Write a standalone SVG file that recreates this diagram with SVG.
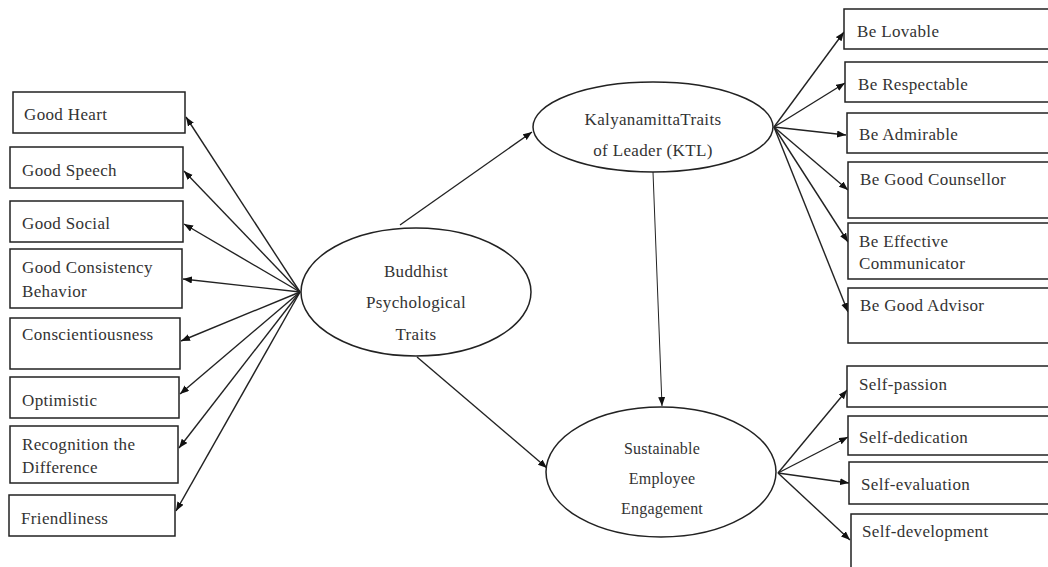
<svg xmlns="http://www.w3.org/2000/svg" width="1048" height="567" viewBox="0 0 1048 567">
<defs>
<style>
.box{fill:#fff;stroke:#222;stroke-width:1.5}
.ell{fill:#fff;stroke:#222;stroke-width:1.5}
.t{font-family:"Liberation Serif","Times New Roman",serif;font-size:17px;fill:#333;letter-spacing:0.35px}
.ts{font-family:"Liberation Serif","Times New Roman",serif;font-size:16px;fill:#333;letter-spacing:0.2px}
.m{text-anchor:middle}
.c line{stroke:#222;stroke-width:1.4;marker-end:url(#ah)}
</style>
<marker id="ah" markerUnits="userSpaceOnUse" markerWidth="10" markerHeight="8" refX="9" refY="3.5" orient="auto">
<path d="M0,0 L9,3.5 L0,7 Z" fill="#111"/>
</marker>
</defs>
<rect width="1048" height="567" fill="#fff"/>

<g class="c" id="connectors">
<line x1="300" y1="292" x2="186" y2="117"/>
<line x1="300" y1="292" x2="184" y2="171"/>
<line x1="300" y1="292" x2="184" y2="224"/>
<line x1="300" y1="292" x2="183" y2="279"/>
<line x1="300" y1="292" x2="181" y2="341"/>
<line x1="300" y1="292" x2="180" y2="394"/>
<line x1="300" y1="292" x2="179" y2="448"/>
<line x1="300" y1="292" x2="176" y2="511"/>
<line x1="400" y1="225" x2="532" y2="132"/>
<line x1="417" y1="357" x2="547" y2="468"/>
<line x1="653" y1="172" x2="662" y2="406" style="stroke-width:1"/>
<line x1="774" y1="127" x2="844" y2="32"/>
<line x1="774" y1="127" x2="845" y2="83"/>
<line x1="774" y1="127" x2="846" y2="135"/>
<line x1="774" y1="127" x2="848" y2="190"/>
<line x1="774" y1="127" x2="848" y2="242"/>
<line x1="774" y1="127" x2="848" y2="312"/>
<line x1="778" y1="473" x2="847" y2="390"/>
<line x1="778" y1="473" x2="848" y2="437"/>
<line x1="778" y1="473" x2="849" y2="483"/>
<line x1="778" y1="473" x2="850" y2="540"/>
</g>

<g id="good-heart"><rect class="box" x="13" y="92" width="172" height="41"/><text class="t" x="24" y="120">Good Heart</text></g>
<g id="good-speech"><rect class="box" x="10" y="147" width="173" height="41"/><text class="t" x="22" y="176">Good Speech</text></g>
<g id="good-social"><rect class="box" x="10" y="201" width="173" height="41"/><text class="t" x="22" y="229">Good Social</text></g>
<g id="good-consistency"><rect class="box" x="10" y="249" width="172" height="59"/><text class="t" x="22" y="273">Good Consistency</text><text class="t" x="22" y="297">Behavior</text></g>
<g id="conscientiousness"><rect class="box" x="10" y="318" width="170" height="51"/><text class="t" x="22" y="340">Conscientiousness</text></g>
<g id="optimistic"><rect class="box" x="10" y="377" width="169" height="41"/><text class="t" x="22" y="406">Optimistic</text></g>
<g id="recognition"><rect class="box" x="10" y="426" width="168" height="57"/><text class="t" x="22" y="450">Recognition  the</text><text class="t" x="22" y="473">Difference</text></g>
<g id="friendliness"><rect class="box" x="9" y="495" width="166" height="41"/><text class="t" x="21" y="524">Friendliness</text></g>

<g id="buddhist"><ellipse class="ell" cx="416" cy="292" rx="115" ry="64"/><text class="t m" x="416" y="277">Buddhist</text><text class="t m" x="416" y="308">Psychological</text><text class="t m" x="416" y="340">Traits</text></g>
<g id="ktl"><ellipse class="ell" cx="653" cy="127" rx="120" ry="45"/><text class="t m" x="653" y="125">KalyanamittaTraits</text><text class="t m" x="653" y="156">of Leader (KTL)</text></g>
<g id="see"><ellipse class="ell" cx="661" cy="472" rx="115" ry="65"/><text class="ts m" x="662" y="454">Sustainable</text><text class="ts m" x="662" y="484">Employee</text><text class="ts m" x="662" y="514">Engagement</text></g>

<g id="be-lovable"><rect class="box" x="844" y="9" width="220" height="40"/><text class="t" x="857" y="37">Be Lovable</text></g>
<g id="be-respectable"><rect class="box" x="845" y="62" width="220" height="40"/><text class="t" x="858" y="90">Be Respectable</text></g>
<g id="be-admirable"><rect class="box" x="847" y="113" width="220" height="40"/><text class="t" x="859" y="140">Be Admirable</text></g>
<g id="be-good-counsellor"><rect class="box" x="848" y="162" width="220" height="56"/><text class="t" x="860" y="185">Be Good Counsellor</text></g>
<g id="be-effective"><rect class="box" x="848" y="223" width="220" height="56"/><text class="t" x="859" y="247">Be Effective</text><text class="t" x="859" y="269">Communicator</text></g>
<g id="be-good-advisor"><rect class="box" x="848" y="288" width="220" height="55"/><text class="t" x="860" y="311">Be Good Advisor</text></g>
<g id="self-passion"><rect class="box" x="847" y="366" width="220" height="41"/><text class="t" x="859" y="390">Self-passion</text></g>
<g id="self-dedication"><rect class="box" x="848" y="416" width="220" height="39"/><text class="t" x="859" y="443">Self-dedication</text></g>
<g id="self-evaluation"><rect class="box" x="849" y="462" width="220" height="42"/><text class="t" x="861" y="490">Self-evaluation</text></g>
<g id="self-development"><rect class="box" x="851" y="514" width="220" height="70"/><text class="t" x="862" y="537">Self-development</text></g>
</svg>
